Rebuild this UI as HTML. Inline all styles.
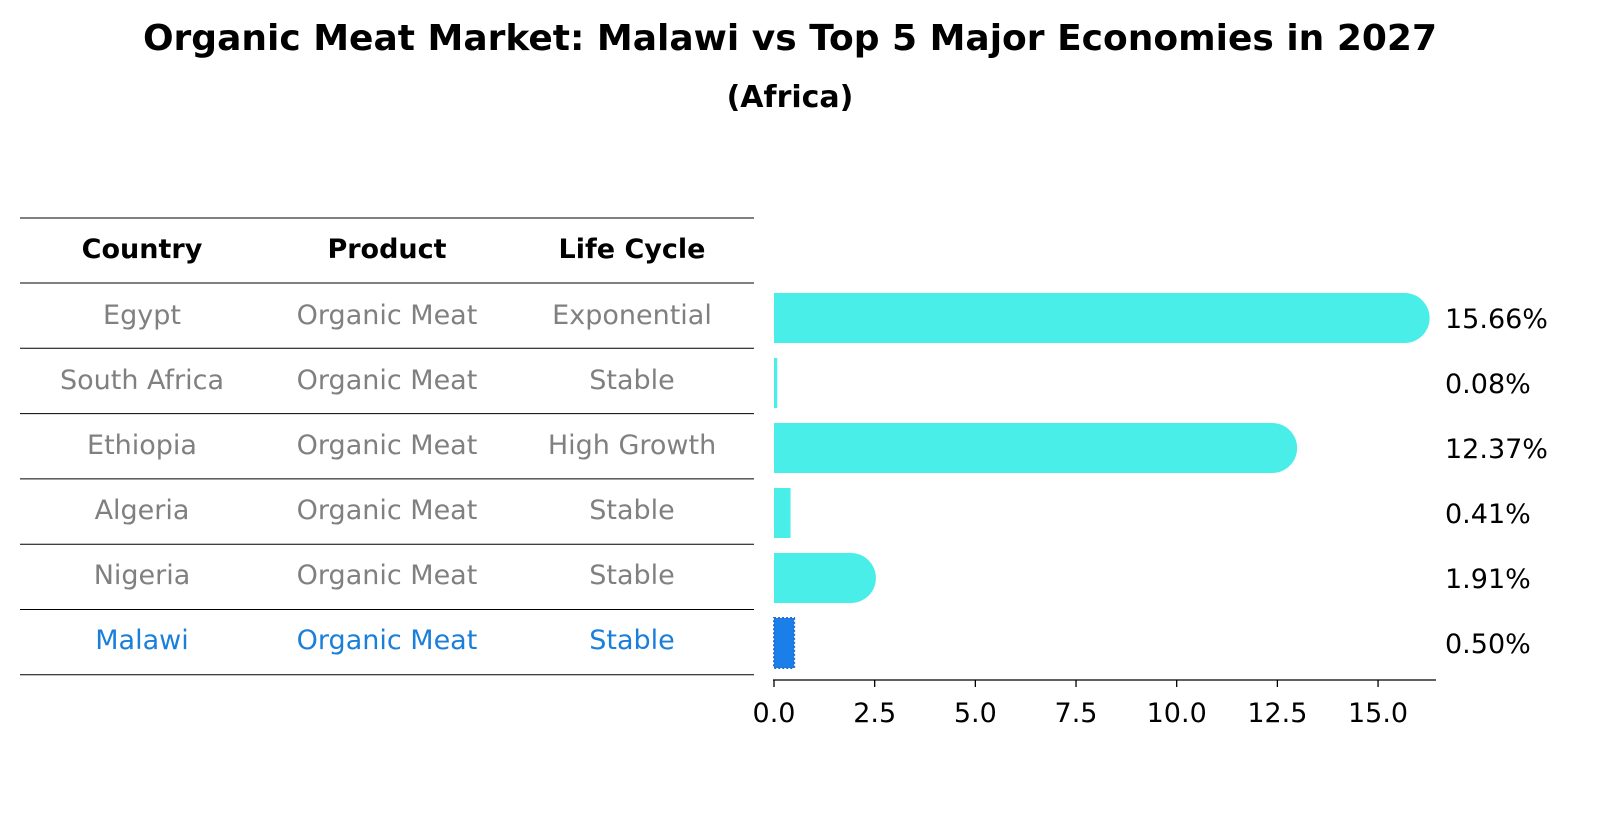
<!DOCTYPE html>
<html><head><meta charset="utf-8"><style>
body{margin:0;background:#fff;font-family:"Liberation Sans","DejaVu Sans",sans-serif}
</style></head><body>
<svg width="1604" height="823" xmlns="http://www.w3.org/2000/svg" font-family="DejaVu Sans, Liberation Sans, sans-serif">
<text x="790" y="50" text-anchor="middle" font-size="36" font-weight="bold">Organic Meat Market: Malawi vs Top 5 Major Economies in 2027</text>
<text x="790" y="107" text-anchor="middle" font-size="30" font-weight="bold">(Africa)</text>
<g id="table"></g>
<g id="bars"></g>
</svg>
<script>
const countries=["Egypt","South Africa","Ethiopia","Algeria","Nigeria","Malawi"];
const products=["Organic Meat","Organic Meat","Organic Meat","Organic Meat","Organic Meat","Organic Meat"];
const lifeCycles=["Exponential","Stable","High Growth","Stable","Stable","Stable"];
const shares=[15.66,0.08,12.37,0.41,1.91,0.50];
const ticks=[0,2.5,5,7.5,10,12.5,15];
const NS="http://www.w3.org/2000/svg";
const tbl=document.getElementById('table'), bg=document.getElementById('bars');
const x0=774, pxPer=40.27;
const xs=v=>x0+v*pxPer;
const rowY=i=>318+i*65;
function mk(p,tag,attrs,txt){const e=document.createElementNS(NS,tag);for(const k in attrs)e.setAttribute(k,attrs[k]);if(txt!=null)e.textContent=txt;p.appendChild(e);return e;}
const colX=[142,387,632];
[["Country",0],["Product",1],["Life Cycle",2]].forEach(([t,c])=>{
 const e=mk(tbl,'text',{x:colX[c],y:258,'text-anchor':'middle','font-size':27,'font-weight':'bold'},t);
 
 
});
for(let i=0;i<=7;i++){
 const y=i==0?218:283+(i-1)*65.3;
 const l=mk(tbl,'line',{x1:20,x2:754,y1:y,y2:y,stroke:'#000','stroke-width':1});
 
 
}
countries.forEach((c,i)=>{
 const col=c==="Malawi"?"#1a7fdb":"#808080";
 [c,products[i],lifeCycles[i]].forEach((t,j)=>{
  const e=mk(tbl,'text',{x:colX[j],y:rowY(i)+6,'text-anchor':'middle','font-size':27,fill:col},t);
  
  
 });
 const v=shares[i], w=xs(v)-x0, y=rowY(i)-25;
 let b;
 if(c==="Malawi"){
  b=mk(bg,'rect',{x:x0,y:y,width:w,height:50,fill:'#1a7fe8',stroke:'#2a6fd0','stroke-width':2,'stroke-dasharray':'2 2'});
 }else if(v>1){
  const r=25;
  b=mk(bg,'path',{d:`M${x0},${y}H${x0+w}A${r},${r} 0 0 1 ${x0+w},${y+50}H${x0}Z`,fill:'#4aeee9'});
 }else{
  b=mk(bg,'rect',{x:x0,y:y,width:Math.max(w,3),height:50,fill:'#4aeee9'});
 }
 
 
 const lab=mk(bg,'text',{x:1445,y:rowY(i)+10,'font-size':27},v.toFixed(2)+'%');
 
 
});
const ax=mk(bg,'line',{x1:773,x2:1436,y1:680,y2:680,stroke:'#000','stroke-width':1.3});


ticks.forEach(t=>{
 const tk=mk(bg,'line',{x1:xs(t),x2:xs(t),y1:680,y2:687,stroke:'#000','stroke-width':1.3});
 
 
 const tl=mk(bg,'text',{x:xs(t),y:722,'text-anchor':'middle','font-size':27},t.toFixed(1));
 
 
});
</script>
</body></html>
